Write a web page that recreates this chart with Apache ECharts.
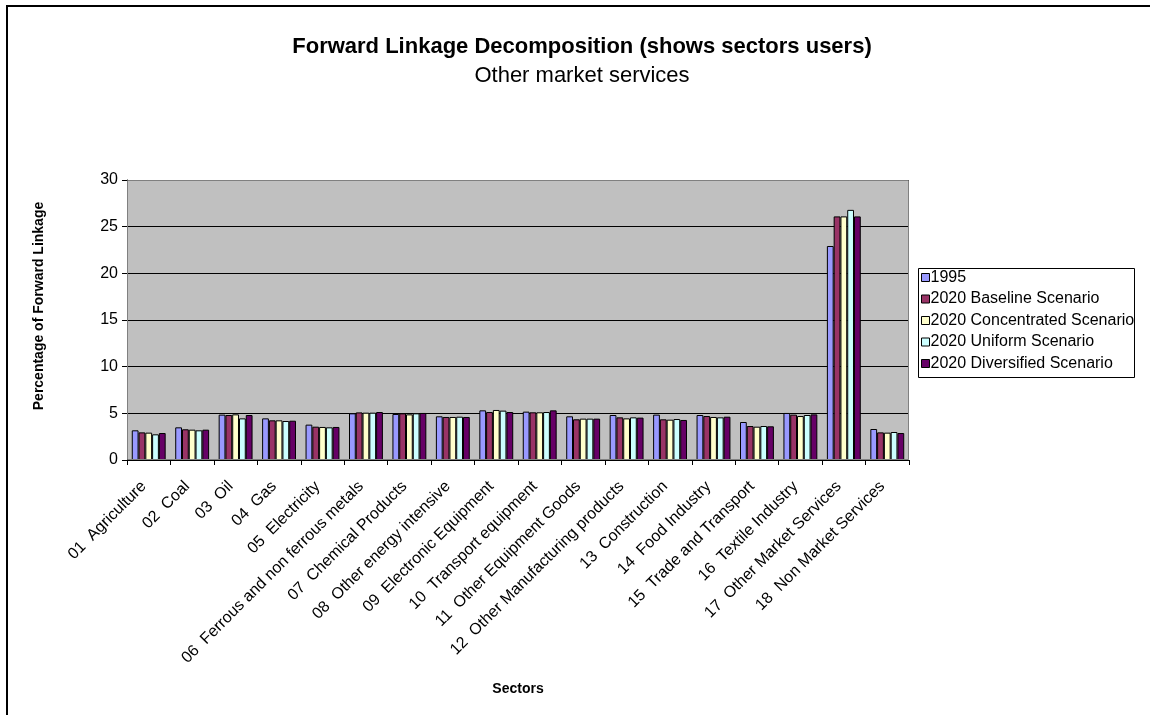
<!DOCTYPE html>
<html><head><meta charset="utf-8">
<script src="https://cdn.jsdelivr.net/npm/echarts@6/dist/echarts.min.js"></script>
<style>html,body{margin:0;padding:0;background:#fff}#c{width:1150px;height:715px}</style>
</head><body><div id="c"></div>
<script>
const categories = ['01  Agriculture','02  Coal','03  Oil','04  Gas','05  Electricity','06  Ferrous and non ferrous metals','07  Chemical Products','08  Other energy intensive','09  Electronic Equipment','10  Transport equipment','11  Other Equipment Goods','12  Other Manufacturing products','13  Construction','14  Food Industry','15  Trade and Transport','16  Textile Industry','17  Other Market Services','18  Non Market Services'];
const seriesNames = ['1995','2020 Baseline Scenario','2020 Concentrated Scenario','2020 Uniform Scenario','2020 Diversified Scenario'];
const v1995 =        [3.18,3.50,4.86,4.46,3.79,5.00,4.93,4.68,5.32,5.18,4.68,4.82,4.86,4.82,4.07,5.04,22.93,3.32];
const vBaseline =    [2.96,3.29,4.82,4.25,3.57,5.10,5.00,4.61,5.14,5.11,4.36,4.57,4.36,4.71,3.64,4.86,26.10,2.96];
const vConcentrated =[2.93,3.25,4.89,4.25,3.54,5.07,4.89,4.61,5.36,5.11,4.43,4.46,4.32,4.61,3.57,4.71,26.10,2.93];
const vUniform =     [2.75,3.18,4.46,4.18,3.50,5.07,5.00,4.64,5.29,5.14,4.43,4.57,4.39,4.57,3.64,4.82,26.80,3.00];
const vDiversified = [2.89,3.25,4.82,4.21,3.54,5.14,5.04,4.61,5.14,5.32,4.43,4.54,4.29,4.64,3.61,4.89,26.10,2.89];
const yTicks = [0,5,10,15,20,25,30];
const colors = ['#9999FF','#993366','#FFFFCC','#CCFFFF','#660066'];
const values = [v1995,vBaseline,vConcentrated,vUniform,vDiversified];

const chart = echarts.init(document.getElementById('c'), null, {renderer:'canvas'});
const F = 'Arial, "Liberation Sans", sans-serif';
chart.setOption({
  animation:false,
  textStyle:{fontFamily:F},
  graphic:[
    {type:'rect', shape:{x:7,y:6,width:1160,height:720}, style:{fill:'none',stroke:'#000',lineWidth:2}, z:-10},
    {type:'rect', shape:{x:127.5,y:180.5,width:781,height:279}, style:{fill:'none',stroke:'#808080',lineWidth:1}, z:5},
    {type:'rect', shape:{x:918.5,y:268.5,width:216,height:109}, style:{fill:'none',stroke:'#000',lineWidth:1}, z:20},
    {type:'rect', shape:{x:1135,y:262,width:14,height:120}, style:{fill:'#fff',stroke:'none'}, z:19},
    {type:'text', style:{text:'Forward Linkage Decomposition (shows sectors users)', x:582, y:47, align:'center', verticalAlign:'middle', font:'bold 22px '+F, fill:'#000'}},
    {type:'text', style:{text:'Other market services', x:582, y:76, align:'center', verticalAlign:'middle', font:'22px '+F, fill:'#000'}},
    {type:'text', style:{text:'Sectors', x:518, y:689, align:'center', verticalAlign:'middle', font:'bold 14px '+F, fill:'#000'}},
    {type:'text', x:39, y:306, rotation:Math.PI/2, style:{text:'Percentage of Forward Linkage', x:0, y:0, align:'center', verticalAlign:'middle', font:'bold 14px '+F, fill:'#000'}}
  ],
  color:colors,
  legend:{
    orient:'vertical', left:917, top:268,
    data:seriesNames,
    itemWidth:8, itemHeight:8, itemGap:4.5,
    icon:'rect',
    borderWidth:0, padding:[1,8,6,4],
    textStyle:{fontSize:16, lineHeight:17, color:'#000', fontFamily:F, padding:[0,0,0,-4]},
    itemStyle:{borderColor:'#000', borderWidth:1}
  },
  grid:{left:127, top:180, width:782, height:280, show:true, backgroundColor:'#C0C0C0', borderWidth:0, containLabel:false, outerBoundsMode:'none'},
  xAxis:{
    type:'category', data:categories,
    axisLine:{lineStyle:{color:'#000',width:1}},
    axisTick:{show:true, length:5, lineStyle:{color:'#000'}},
    axisLabel:{rotate:45, interval:0, fontSize:16, color:'#000', margin:19, padding:[0,7,0,0], fontFamily:F}
  },
  yAxis:{
    type:'value', min:0, max:30, interval:5,
    axisLine:{show:true, lineStyle:{color:'#000'}},
    axisTick:{show:true, length:5, inside:false, lineStyle:{color:'#000'}},
    axisLabel:{fontSize:16, color:'#000', margin:9, fontFamily:F, showMinLabel:true, showMaxLabel:true,
      formatter:function(v){return yTicks.indexOf(v)>=0?String(v):'';}},
    splitLine:{show:true, lineStyle:{color:'#000', width:1}}
  },
  series: seriesNames.map((n,i)=>({
    name:n, type:'bar', data:values[i],
    barGap:'0%', barCategoryGap:'22%',
    itemStyle:{color:colors[i], borderColor:'#000', borderWidth:1}
  }))
});
</script></body></html>
